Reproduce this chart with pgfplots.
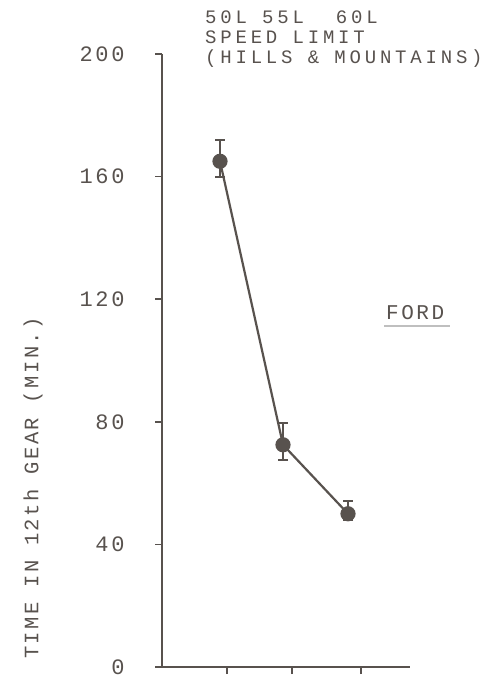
\documentclass[border=0pt]{standalone}
\usepackage{pgfplots}
\pgfplotsset{compat=1.18}
\usepackage{fontspec}
\newfontfamily\tw[LetterSpace=12]{Liberation Mono}
\newfontfamily\twt[LetterSpace=20]{Liberation Mono}
\definecolor{ink}{RGB}{88,82,78}
\begin{document}
\begin{tikzpicture}[x=1pt,y=1pt]
\useasboundingbox (0,0) rectangle (501,693);
\begin{axis}[
  scale only axis, width=248pt, height=613pt,
  anchor=south west, at={(162pt,26pt)},
  xmin=0, xmax=248, ymin=0, ymax=200,
  axis lines=left,
  axis line style={ink, line width=1.6pt, -},
  xtick={65,130,199}, xticklabels={},
  ytick={0,40,...,200},
  tick align=outside, major tick length=7pt,
  tick style={ink, line width=1.6pt},
  yticklabel style={font=\fontsize{22}{22}\tw, text=ink, xshift=-27pt},
  /pgf/number format/assume math mode=true,
  clip=false,
]
% time in 12th gear at the three speed limits, with the spread shown as bars
\addplot[ink, line width=2.2pt, mark=*, mark size=6.5pt,
  mark options={fill=ink, draw=ink},
  error bars/.cd, y dir=both, y explicit,
  error bar style={ink, line width=2pt},
  error mark options={rotate=90, mark size=5pt, ink, line width=2pt}]
  coordinates {
    (58,165)  += (0,7) -= (0,5)
    (121,72.5) += (0,7) -= (0,5)
    (186,50)  += (0,4) -= (0,2)
  };
\end{axis}
% heading above the plot (anchored at the baseline of its last line)
\node[anchor=base west, font=\fontsize{19}{20}\twt, text=ink, inner sep=0, align=left]
  at (205,629) {50L 55L\hspace{32pt}60L\\SPEED LIMIT\\(HILLS \& MOUNTAINS)};
% vertical axis title
\node[rotate=90, font=\fontsize{20.5}{20}\tw, text=ink] at (33,205) {TIME IN 12th GEAR (MIN.)};
% series name
\node[anchor=base west, font=\fontsize{21}{21}\tw, text=ink, inner sep=0] at (386,373) {FORD};
\draw[gray!50, line width=1.5pt] (384,367) -- (450,367);
\end{tikzpicture}
\end{document}
